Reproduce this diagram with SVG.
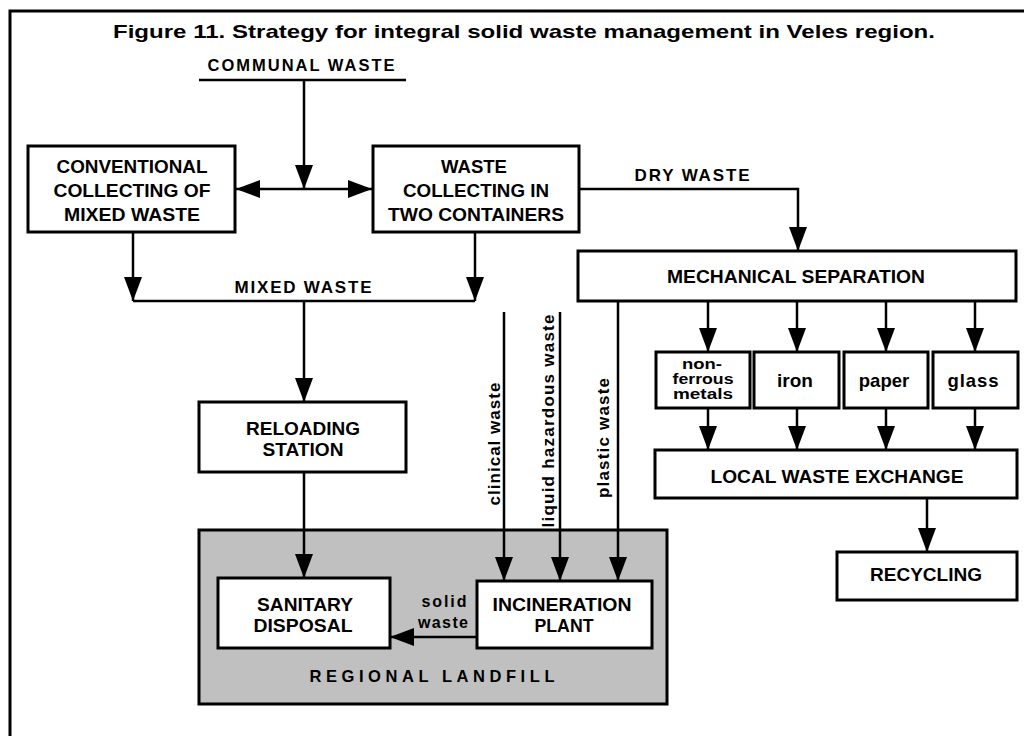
<svg xmlns="http://www.w3.org/2000/svg" width="1024" height="736" viewBox="0 0 1024 736">
<style>
.t{font-family:"Liberation Sans",Arial,sans-serif;font-weight:bold;fill:#000;text-anchor:middle}
.b{fill:#fff;stroke:#000;stroke-width:3}
.c{fill:none;stroke:#000;stroke-width:2.5}
.a{marker-end:url(#ah)}
</style>
<defs>
<marker id="ah" markerUnits="userSpaceOnUse" markerWidth="24" markerHeight="18" refX="24" refY="9" orient="auto-start-reverse" viewBox="0 0 24 18">
<path d="M0,0 L24,9 L0,18 z" fill="#000"/>
</marker>
</defs>
<rect width="1024" height="736" fill="#fff"/>
<path d="M10,736 V11 H1024" fill="none" stroke="#000" stroke-width="3"/>
<text class="t" x="524" y="38" font-size="19" textLength="822" lengthAdjust="spacingAndGlyphs">Figure 11. Strategy for integral solid waste management in Veles region.</text>

<g id="communal">
<text class="t" x="301" y="71" font-size="16.5" textLength="187" lengthAdjust="spacing">COMMUNAL WASTE</text>
<line x1="199" y1="80" x2="406" y2="80" stroke="#000" stroke-width="2.5"/>
</g>

<g id="landfill">
<rect x="199" y="530" width="468" height="174" fill="#c0c0c0" stroke="#000" stroke-width="3"/>
<text class="t" x="432" y="682" font-size="16.5" textLength="245" lengthAdjust="spacing">REGIONAL LANDFILL</text>
</g>

<g id="conventional">
<rect class="b" x="28" y="146" width="207" height="86"/>
<text class="t" x="132" y="173" font-size="17.5" textLength="151" lengthAdjust="spacingAndGlyphs">CONVENTIONAL</text>
<text class="t" x="132" y="197" font-size="17.5" textLength="157" lengthAdjust="spacingAndGlyphs">COLLECTING OF</text>
<text class="t" x="132" y="221" font-size="17.5" textLength="136" lengthAdjust="spacingAndGlyphs">MIXED WASTE</text>
</g>

<g id="two-containers">
<rect class="b" x="373" y="146" width="206" height="86"/>
<text class="t" x="474" y="173" font-size="17.5" textLength="66" lengthAdjust="spacingAndGlyphs">WASTE</text>
<text class="t" x="476" y="197" font-size="17.5" textLength="146" lengthAdjust="spacingAndGlyphs">COLLECTING IN</text>
<text class="t" x="476" y="221" font-size="17.5" textLength="176" lengthAdjust="spacingAndGlyphs">TWO CONTAINERS</text>
</g>

<g id="mechanical">
<rect class="b" x="578" y="251" width="438" height="50"/>
<text class="t" x="796" y="283" font-size="17.5" textLength="258" lengthAdjust="spacingAndGlyphs">MECHANICAL SEPARATION</text>
</g>

<g id="reloading">
<rect class="b" x="199" y="402" width="207" height="70"/>
<text class="t" x="303" y="435" font-size="17.5" textLength="114" lengthAdjust="spacingAndGlyphs">RELOADING</text>
<text class="t" x="303" y="456" font-size="17.5" textLength="81" lengthAdjust="spacingAndGlyphs">STATION</text>
</g>

<g id="sanitary">
<rect class="b" x="218" y="578" width="172" height="70"/>
<text class="t" x="305" y="611" font-size="17.5" textLength="96" lengthAdjust="spacingAndGlyphs">SANITARY</text>
<text class="t" x="303" y="632" font-size="17.5" textLength="99" lengthAdjust="spacingAndGlyphs">DISPOSAL</text>
</g>

<g id="incineration">
<rect class="b" x="477" y="581" width="175" height="67"/>
<text class="t" x="562" y="611" font-size="17.5" textLength="139" lengthAdjust="spacingAndGlyphs">INCINERATION</text>
<text class="t" x="564" y="632" font-size="17.5" textLength="59" lengthAdjust="spacingAndGlyphs">PLANT</text>
</g>

<g id="nonferrous">
<rect class="b" x="656" y="352" width="94" height="56"/>
<text class="t" x="702" y="369" font-size="14.5" textLength="40" lengthAdjust="spacingAndGlyphs">non-</text>
<text class="t" x="703" y="384" font-size="14.5" textLength="61" lengthAdjust="spacingAndGlyphs">ferrous</text>
<text class="t" x="703" y="399" font-size="14.5" textLength="60" lengthAdjust="spacingAndGlyphs">metals</text>
</g>

<g id="iron">
<rect class="b" x="754" y="352" width="85" height="56"/>
<text class="t" x="795" y="387" font-size="19">iron</text>
</g>

<g id="paper">
<rect class="b" x="844" y="352" width="84" height="56"/>
<text class="t" x="884" y="387" font-size="18.5">paper</text>
</g>

<g id="glass">
<rect class="b" x="933" y="352" width="85" height="56"/>
<text class="t" x="973" y="387" font-size="18.5" textLength="51" lengthAdjust="spacing">glass</text>
</g>

<g id="exchange">
<rect class="b" x="655" y="450" width="362" height="48"/>
<text class="t" x="837" y="483" font-size="17.5" textLength="253" lengthAdjust="spacingAndGlyphs">LOCAL WASTE EXCHANGE</text>
</g>

<g id="recycling">
<rect class="b" x="837" y="552" width="180" height="48"/>
<text class="t" x="926" y="581" font-size="17.5" textLength="112" lengthAdjust="spacingAndGlyphs">RECYCLING</text>
</g>

<g id="connectors">
<path class="c a" d="M304,80 V189"/>
<path class="c" d="M236,189 H372" marker-start="url(#ah)" marker-end="url(#ah)"/>
<path class="c a" d="M579,189 H798 V251"/>
<text class="t" x="692" y="181" font-size="17" textLength="115" lengthAdjust="spacing">DRY WASTE</text>
<path class="c a" d="M133,232 V301"/>
<path class="c a" d="M475,232 V301"/>
<path class="c" d="M133,301 H475"/>
<text class="t" x="303" y="293" font-size="17" textLength="137" lengthAdjust="spacing">MIXED WASTE</text>
<path class="c a" d="M304,301 V402"/>
<path class="c a" d="M304,472 V578"/>
<path class="c a" d="M504,312 V581"/>
<path class="c a" d="M560,312 V581"/>
<path class="c a" d="M618,301 V581"/>
<text class="t" transform="translate(500,444) rotate(-90)" font-size="17" textLength="123" lengthAdjust="spacing">clinical waste</text>
<text class="t" transform="translate(554,421) rotate(-90)" font-size="17" textLength="213" lengthAdjust="spacing">liquid hazardous waste</text>
<text class="t" transform="translate(609,438) rotate(-90)" font-size="17" textLength="120" lengthAdjust="spacing">plastic waste</text>
<path class="c a" d="M477,637 H390"/>
<text class="t" x="444" y="607" font-size="16" textLength="45" lengthAdjust="spacing">solid</text>
<text class="t" x="443" y="628" font-size="16" textLength="50" lengthAdjust="spacing">waste</text>
<path class="c a" d="M708,301 V352"/>
<path class="c a" d="M797,301 V352"/>
<path class="c a" d="M886,301 V352"/>
<path class="c a" d="M975,301 V352"/>
<path class="c a" d="M708,408 V450"/>
<path class="c a" d="M797,408 V450"/>
<path class="c a" d="M886,408 V450"/>
<path class="c a" d="M975,408 V450"/>
<path class="c a" d="M927,498 V552"/>
</g>
</svg>
